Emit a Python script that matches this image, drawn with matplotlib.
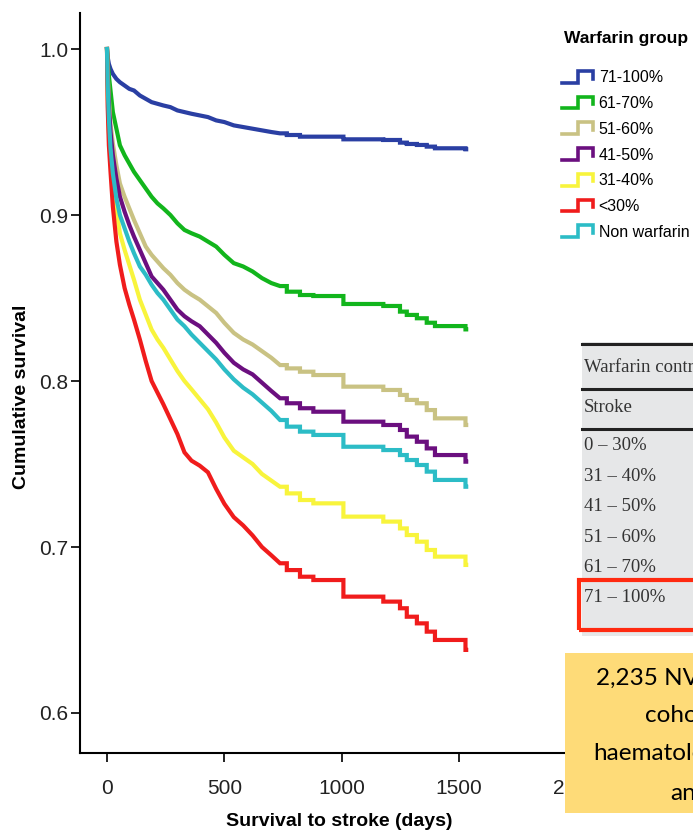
import matplotlib
matplotlib.use("Agg")
import matplotlib.pyplot as plt
from matplotlib.lines import Line2D
from matplotlib.patches import Rectangle
from matplotlib.legend_handler import HandlerBase
from matplotlib.ticker import FormatStrFormatter

# survival
# early part: smooth-looking KM curve, sampled at these days
early_days = [0, 3, 8, 15, 25, 40, 55, 75, 95, 115, 140, 165, 190, 215, 240, 270,
              300, 330, 360, 395, 430, 465, 500, 540, 580, 620, 660, 700, 737]
# late part: clear shared steps at these days
step_days = [766, 822, 879, 1007, 1177, 1248, 1277, 1320, 1362, 1397, 1527]
end_day = 1530

early_71_100 = [1.000, 0.995, 0.991, 0.988, 0.985, 0.982, 0.980, 0.978, 0.976, 0.975,
                0.972, 0.970, 0.968, 0.967, 0.966, 0.965, 0.963, 0.962, 0.961, 0.960,
                0.959, 0.957, 0.956, 0.954, 0.953, 0.952, 0.951, 0.950, 0.9492]
late_71_100 = [0.9482, 0.9472, 0.9472, 0.9456, 0.9452, 0.9436, 0.9428, 0.9422, 0.9412,
               0.9402, 0.9396]
early_61_70 = [1.000, 0.992, 0.984, 0.975, 0.962, 0.952, 0.942, 0.936, 0.931, 0.926,
               0.921, 0.916, 0.911, 0.907, 0.904, 0.900, 0.895, 0.891, 0.889, 0.887,
               0.884, 0.881, 0.876, 0.871, 0.869, 0.866, 0.862, 0.859, 0.8572]
late_61_70 = [0.8538, 0.8518, 0.8512, 0.8464, 0.8452, 0.8418, 0.8398, 0.8378, 0.8351,
              0.8331, 0.8311]
early_51_60 = [1.000, 0.985, 0.970, 0.955, 0.943, 0.930, 0.919, 0.911, 0.904, 0.897,
               0.889, 0.881, 0.876, 0.872, 0.868, 0.864, 0.859, 0.855, 0.852, 0.849,
               0.845, 0.841, 0.835, 0.829, 0.825, 0.822, 0.818, 0.814, 0.8096]
late_51_60 = [0.8076, 0.8056, 0.8036, 0.7966, 0.7946, 0.7916, 0.7886, 0.7866, 0.7825,
              0.7775, 0.7735]
early_41_50 = [1.000, 0.982, 0.965, 0.950, 0.936, 0.922, 0.911, 0.902, 0.894, 0.887,
               0.879, 0.871, 0.863, 0.859, 0.855, 0.849, 0.843, 0.839, 0.836, 0.833,
               0.828, 0.823, 0.817, 0.811, 0.807, 0.804, 0.799, 0.794, 0.7896]
late_41_50 = [0.7866, 0.7836, 0.7815, 0.7755, 0.7735, 0.7705, 0.7665, 0.7634, 0.7594,
              0.7554, 0.7514]
early_31_40 = [1.000, 0.972, 0.950, 0.935, 0.921, 0.903, 0.889, 0.879, 0.870, 0.861,
               0.849, 0.840, 0.831, 0.825, 0.820, 0.813, 0.806, 0.800, 0.795, 0.789,
               0.783, 0.775, 0.766, 0.758, 0.754, 0.750, 0.744, 0.740, 0.7363]
late_31_40 = [0.7323, 0.7283, 0.7263, 0.7183, 0.7153, 0.7112, 0.7072, 0.7032, 0.6982,
              0.6942, 0.6892]
early_lt30 = [1.000, 0.965, 0.942, 0.926, 0.905, 0.884, 0.870, 0.856, 0.846, 0.837,
              0.825, 0.812, 0.800, 0.793, 0.786, 0.777, 0.768, 0.757, 0.752, 0.749,
              0.745, 0.735, 0.726, 0.718, 0.713, 0.707, 0.700, 0.695, 0.6902]
late_lt30 = [0.6861, 0.6821, 0.6801, 0.6701, 0.6671, 0.6631, 0.6580, 0.6540, 0.6490,
             0.6440, 0.6380]
early_non = [1.000, 0.978, 0.958, 0.940, 0.925, 0.910, 0.900, 0.892, 0.884, 0.877,
             0.869, 0.864, 0.858, 0.853, 0.849, 0.843, 0.837, 0.833, 0.828, 0.823,
             0.818, 0.813, 0.807, 0.801, 0.796, 0.792, 0.787, 0.782, 0.7765]
late_non = [0.7725, 0.7695, 0.7675, 0.7604, 0.7584, 0.7554, 0.7524, 0.7494, 0.7454,
            0.7404, 0.7363]

group_labels = ["71-100%", "61-70%", "51-60%", "41-50%", "31-40%", "<30%", "Non warfarin"]
group_colors = ["#2a3fa3", "#12b51c", "#c9c283", "#6b0f7f", "#f8f43c", "#f01c1c", "#2cbcc6"]
group_early = [early_71_100, early_61_70, early_51_60, early_41_50, early_31_40,
               early_lt30, early_non]
group_late = [late_71_100, late_61_70, late_51_60, late_41_50, late_31_40,
              late_lt30, late_non]

x_ticks = [0, 500, 1000, 1500, 2000]
y_ticks = [0.6, 0.7, 0.8, 0.9, 1.0]

table_title = "Warfarin control"
table_sub = "Stroke"
table_rows = ["0 \u2013 30%", "31 \u2013 40%", "41 \u2013 50%", "51 \u2013 60%",
              "61 \u2013 70%", "71 \u2013 100%"]
note_lines = ["2,235 NVAF", "cohort", "haematology", "and"]

W, H = 693, 836


def fpos(x, y):
    # pixel position (from top-left) -> figure fraction
    return x / W, 1 - y / H


def km_path(early, late):
    """Sampled early curve followed by vertical steps at step_days."""
    xs, ys = list(early_days), list(early)
    prev = ys[-1]
    for t, v in zip(step_days, late):
        xs += [t, t]
        ys += [prev, v]
        prev = v
    xs.append(end_day)
    ys.append(prev)
    return xs, ys


class StepHandler(HandlerBase):
    """Legend key drawn as a little step, like the survival plot key."""

    def create_artists(self, legend, orig_handle, xdescent, ydescent,
                       width, height, fontsize, trans):
        xs = [0, 0.5, 0.5, 1, 1]
        ys = [0.0, 0.0, 1.0, 1.0, 0.35]
        line = Line2D([-xdescent + width * a for a in xs],
                      [-ydescent + height * b for b in ys],
                      color=orig_handle.get_color(), lw=2.6,
                      solid_joinstyle="miter", transform=trans)
        return [line]


plt.rcParams["font.family"] = ["Liberation Sans", "DejaVu Sans"]

fig = plt.figure(figsize=(W / 100, H / 100), dpi=100)
ax = fig.add_axes([80 / W, 83 / H, 520 / W, 740 / H])

handles = []
for lab, col, e, l in zip(group_labels, group_colors, group_early, group_late):
    xs, ys = km_path(e, l)
    h, = ax.plot(xs, ys, color=col, lw=3.0, solid_joinstyle="miter", label=lab)
    handles.append(h)

ax.set_xlim(-115, 2100)
ax.set_ylim(0.5759, 1.0217)
ax.set_xticks(x_ticks)
ax.set_yticks(y_ticks)
ax.yaxis.set_major_formatter(FormatStrFormatter("%.1f"))
for side in ["top", "right"]:
    ax.spines[side].set_visible(False)
for side in ["left", "bottom"]:
    ax.spines[side].set_linewidth(1.5)
ax.tick_params(axis="both", direction="out", length=6.5, width=1.4,
               labelsize=15, colors="#222222")
ax.tick_params(axis="y", pad=2)
ax.tick_params(axis="x", pad=12)

ax.set_xlabel("Survival to stroke (days)", fontsize=14, fontweight="bold")
ax.set_ylabel("Cumulative survival", fontsize=14, fontweight="bold")
ax.xaxis.set_label_coords((339 - 80) / 520, -(813 - 753) / 740)
ax.yaxis.set_label_coords(-(80 - 30) / 520, (753 - 397) / 740)

fig.text(*fpos(564, 38), "Warfarin group", fontsize=12.5, fontweight="bold",
         va="center", ha="left")
leg = fig.legend(handles=handles, labels=group_labels,
                 handler_map={Line2D: StepHandler()},
                 loc="upper left", bbox_to_anchor=fpos(562, 70.5),
                 frameon=False, fontsize=11.5, handlelength=1.95,
                 handleheight=0.75, handletextpad=0.35, labelspacing=0.67,
                 borderaxespad=0, borderpad=0)

# table fragment pasted on the right
fig.patches.append(Rectangle(fpos(582, 636), (W - 582) / W, (636 - 342) / H,
                             transform=fig.transFigure, facecolor="#e6e7e8",
                             edgecolor="none", zorder=5))
for yy in [343.5, 389.5, 428.5]:
    fig.add_artist(Line2D([582 / W, 1], [1 - yy / H] * 2, color="#222222",
                          lw=2.2, zorder=6))
serif = {"family": ["Liberation Serif", "DejaVu Serif"], "size": 13.5, "color": "#333333"}
fig.text(*fpos(584, 367), table_title, va="center", ha="left", zorder=7, **serif)
fig.text(*fpos(584, 408), table_sub, va="center", ha="left", zorder=7, **serif)
for i, row in enumerate(table_rows):
    fig.text(*fpos(584, 446 + 30.4 * i), row, va="center", ha="left", zorder=7, **serif)
fig.patches.append(Rectangle(fpos(578.5, 630), 130 / W, (630 - 580) / H,
                             transform=fig.transFigure, facecolor="none",
                             edgecolor="#ff2a10", lw=3.0, zorder=8))

# yellow note box
fig.patches.append(Rectangle(fpos(565, 813), (W - 565) / W, (813 - 653) / H,
                             transform=fig.transFigure, facecolor="#fedb78",
                             edgecolor="none", zorder=9))
note_x = [596, 645, 593, 670]
note_y = [678, 716, 754, 793]
for nx, ny, txt in zip(note_x, note_y, note_lines):
    fig.text(*fpos(nx, ny), txt, va="center", ha="left", zorder=10,
             family=["Lato", "DejaVu Sans"], fontsize=17.5, color="black")

fig.savefig("out.png", dpi=100)
